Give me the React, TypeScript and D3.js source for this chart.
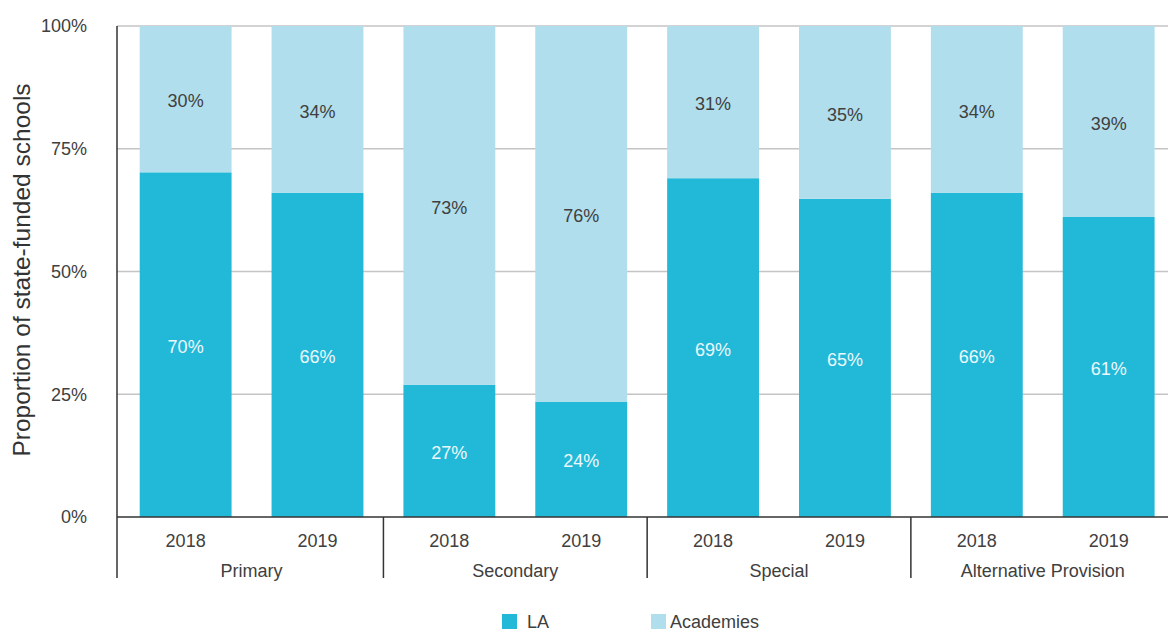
import React from 'react';
import { scaleBand, scaleLinear } from 'd3';

const categories = ['Primary', 'Secondary', 'Special', 'Alternative Provision'];
const years = ['2018', '2019'];
// LA share as drawn (bar heights), and the printed labels
const laValues = [70.2, 66, 26.9, 23.5, 69, 64.8, 66, 61.1];
const laLabels = [70, 66, 27, 24, 69, 65, 66, 61];
const academyLabels = [30, 34, 73, 76, 31, 35, 34, 39];
const yTicks = [0, 25, 50, 75, 100];

const LA_COLOR = '#22b8d8';
const ACAD_COLOR = '#b0deec';
const FONT = '"Liberation Sans", Arial, sans-serif';

const App = () => {
  const width = 1168;
  const height = 631;
  const left = 119.7;
  const right = 1174.6;
  const top = 26;
  const bottom = 517;

  const keys = categories.flatMap((c) => years.map((y) => `${c}|${y}`));
  const x = scaleBand().domain(keys).range([left, right]).paddingInner(0.3033).paddingOuter(0.1517);
  const groupX = scaleBand().domain(categories).range([left, right]);
  const yScale = scaleLinear().domain([0, 100]).range([bottom, top]);

  return (
    <svg width={width} height={height} style={{ position: 'absolute', left: 0, top: 0 }} fontFamily={FONT}>
      {/* gridlines */}
      {yTicks.filter((t) => t > 0).map((t) => (
        <line key={t} x1={117} x2={width} y1={yScale(t)} y2={yScale(t)} stroke='#c4c4c4' strokeWidth={1.5} />
      ))}
      {yTicks.map((t) => (
        <text key={t} x={87} y={yScale(t)} dy='0.35em' textAnchor='end' fontSize={18} fill='#404040'>
          {t}%
        </text>
      ))}
      <text
        transform={`translate(30, 270) rotate(-90)`}
        textAnchor='middle'
        fontSize={24.5}
        fill='#333'
      >
        Proportion of state-funded schools
      </text>

      {/* bars */}
      {keys.map((k, i) => {
        const x0 = x(k) as number;
        const bw = x.bandwidth();
        const la = laValues[i];
        return (
          <g key={k}>
            <rect x={x0} y={yScale(la)} width={bw} height={bottom - yScale(la)} fill={LA_COLOR} />
            <rect x={x0} y={yScale(100)} width={bw} height={yScale(la) - yScale(100)} fill={ACAD_COLOR} />
            <text x={x0 + bw / 2} y={(yScale(la) + bottom) / 2} dy='0.45em' textAnchor='middle' fontSize={18} fill='#eef9fc'>
              {laLabels[i]}%
            </text>
            <text x={x0 + bw / 2} y={(yScale(100) + yScale(la)) / 2} dy='0.45em' textAnchor='middle' fontSize={18} fill='#404040'>
              {academyLabels[i]}%
            </text>
            <text x={x0 + bw / 2} y={547} textAnchor='middle' fontSize={18} fill='#404040'>
              {k.split('|')[1]}
            </text>
          </g>
        );
      })}

      {/* axes */}
      <line x1={117} x2={117} y1={top} y2={578} stroke='#333' strokeWidth={1.5} />
      <line x1={117} x2={width} y1={bottom} y2={bottom} stroke='#333' strokeWidth={1.5} />
      {categories.map((c, i) => {
        const gx = groupX(c) as number;
        return (
          <g key={c}>
            {i > 0 && <line x1={gx} x2={gx} y1={bottom} y2={578} stroke='#333' strokeWidth={1.5} />}
            <text x={gx + groupX.bandwidth() / 2} y={577} textAnchor='middle' fontSize={18} fill='#404040'>
              {c}
            </text>
          </g>
        );
      })}

      {/* legend */}
      <rect x={502} y={614} width={15} height={15} fill={LA_COLOR} />
      <text x={527} y={628} fontSize={18} fill='#404040'>LA</text>
      <rect x={651} y={614} width={15} height={15} fill={ACAD_COLOR} />
      <text x={670} y={628} fontSize={18} fill='#404040'>Academies</text>
    </svg>
  );
};

export default App;
